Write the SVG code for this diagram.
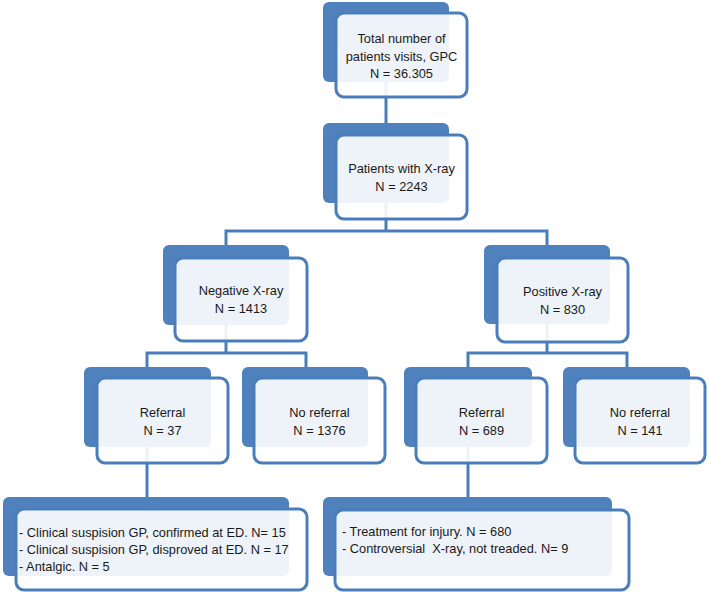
<svg xmlns="http://www.w3.org/2000/svg" width="709" height="594" viewBox="0 0 709 594">
<style>
.back{fill:#4F81BD;}
.front{fill:#FFFFFF;fill-opacity:0.9;stroke:#4A7EBB;stroke-width:3;}
.conn{fill:none;stroke:#4A7EBB;stroke-width:3;}
text{font-family:"Liberation Sans",Arial,sans-serif;font-size:12.8px;fill:#1A1A1A;}
.c{text-anchor:middle;}
.pre{white-space:pre;}
</style>
<rect width="709" height="594" fill="#FFFFFF"/>
<g id="connectors">
<path class="conn" d="M386,80 V124"/>
<path class="conn" d="M386,202 V231 M226,246 V231 H547 V246"/>
<path class="conn" d="M226,324 V353 M147,368 V353 H306 V368"/>
<path class="conn" d="M547,324 V353 M468,368 V353 H627 V368"/>
<path class="conn" d="M147,446 V498"/>
<path class="conn" d="M468,446 V498"/>
</g>
<g id="n-total">
<rect class="back" x="323" y="2" width="126" height="80" rx="6"/>
<rect class="front" x="336" y="13" width="131" height="84" rx="8"/>
<text class="c" x="401.5" y="43">Total number of</text>
<text class="c" x="401.5" y="61">patients visits, GPC</text>
<text class="c" x="401.5" y="78">N = 36.305</text>
</g>
<g id="n-xray">
<rect class="back" x="323" y="123" width="126" height="80" rx="6"/>
<rect class="front" x="336" y="135" width="131" height="84" rx="8"/>
<text class="c" x="401.5" y="173">Patients with X-ray</text>
<text class="c" x="401.5" y="191">N = 2243</text>
</g>
<g id="n-neg">
<rect class="back" x="163" y="245" width="126" height="80" rx="6"/>
<rect class="front" x="175" y="258" width="132" height="83" rx="8"/>
<text class="c" x="241" y="295">Negative X-ray</text>
<text class="c" x="241" y="313">N = 1413</text>
</g>
<g id="n-pos">
<rect class="back" x="484" y="245" width="126" height="79" rx="6"/>
<rect class="front" x="497" y="258" width="131" height="84" rx="8"/>
<text class="c" x="562.5" y="296">Positive X-ray</text>
<text class="c" x="562.5" y="314">N = 830</text>
</g>
<g id="n-ref-neg">
<rect class="back" x="84" y="367" width="127" height="80" rx="6"/>
<rect class="front" x="97" y="378" width="131" height="85" rx="8"/>
<text class="c" x="162.5" y="417">Referral</text>
<text class="c" x="162.5" y="435">N = 37</text>
</g>
<g id="n-noref-neg">
<rect class="back" x="242" y="367" width="126" height="80" rx="6"/>
<rect class="front" x="254" y="378" width="131" height="85" rx="8"/>
<text class="c" x="319.5" y="417">No referral</text>
<text class="c" x="319.5" y="435">N = 1376</text>
</g>
<g id="n-ref-pos">
<rect class="back" x="404" y="367" width="128" height="80" rx="6"/>
<rect class="front" x="416" y="378" width="131" height="85" rx="8"/>
<text class="c" x="481.5" y="417">Referral</text>
<text class="c" x="481.5" y="435">N = 689</text>
</g>
<g id="n-noref-pos">
<rect class="back" x="563" y="367" width="127" height="80" rx="6"/>
<rect class="front" x="575" y="378" width="130" height="85" rx="8"/>
<text class="c" x="640" y="417">No referral</text>
<text class="c" x="640" y="435">N = 141</text>
</g>
<g id="n-detail-neg">
<rect class="back" x="3" y="497" width="286" height="79" rx="6"/>
<rect class="front" x="16" y="509" width="291" height="81" rx="8"/>
<text x="19" y="537">- Clinical suspision GP, confirmed at ED. N= 15</text>
<text x="19" y="554">- Clinical suspision GP, disproved at ED. N = 17</text>
<text x="19" y="571">- Antalgic. N = 5</text>
</g>
<g id="n-detail-pos">
<rect class="back" x="323" y="497" width="289" height="79" rx="6"/>
<rect class="front" x="335" y="510" width="294" height="80" rx="8"/>
<text x="342" y="536">- Treatment for injury. N = 680</text>
<text class="pre" x="342" y="553">- Controversial  X-ray, not treaded. N= 9</text>
</g>
</svg>
